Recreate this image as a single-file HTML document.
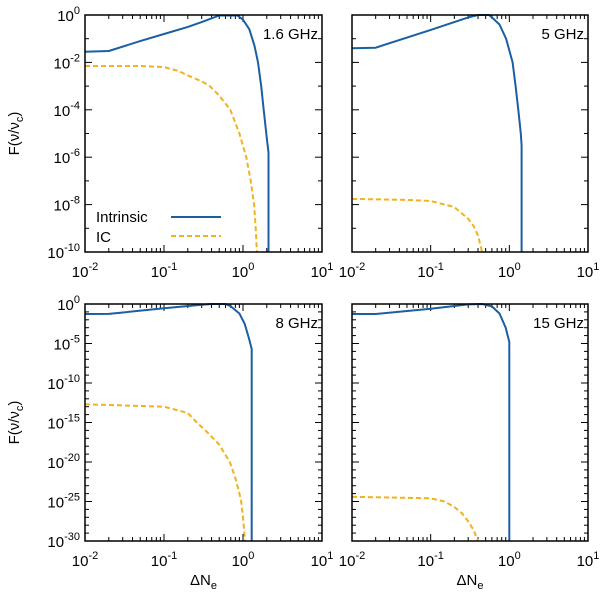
<!DOCTYPE html>
<html><head><meta charset="utf-8"><style>
body{margin:0;background:#fff}
svg{display:block;font-family:"Liberation Sans",sans-serif}
</style></head><body>
<svg id="c" width="600" height="596" xmlns="http://www.w3.org/2000/svg"></svg>
<script>
// Data: x values (ΔNe) and log10 of F values
const p1IntX=[0.01,0.02,0.05,0.1,0.2,0.3,0.5,0.85,1.0,1.2,1.4,1.55,1.7,1.83,2.0,2.1,2.1];
const p1IntLogY=[-1.55,-1.52,-1.1,-0.8,-0.5,-0.3,-0.02,-0.02,-0.2,-0.6,-1.3,-2,-3,-4,-5.2,-5.8,-10];
const p1IcX=[0.01,0.05,0.1,0.15,0.2,0.3,0.38,0.5,0.69,0.9,1.1,1.25,1.38,1.45,1.5];
const p1IcLogY=[-2.15,-2.15,-2.2,-2.35,-2.55,-2.8,-3,-3.4,-4,-5,-6,-7,-8,-9,-10];
const p2IntX=[0.01,0.02,0.1,0.3,0.4,0.55,0.6,0.75,0.91,1.1,1.2,1.3,1.4,1.43,1.43];
const p2IntLogY=[-1.4,-1.38,-0.63,-0.1,0,0,-0.1,-0.4,-1,-2,-3,-4,-5,-5.5,-10];
const p2IcX=[0.01,0.05,0.1,0.2,0.3,0.35,0.4,0.45];
const p2IcLogY=[-7.76,-7.8,-7.85,-8.1,-8.6,-8.9,-9.3,-10];
const p3IntX=[0.01,0.02,0.1,0.3,0.4,0.6,0.7,0.9,1.05,1.2,1.29,1.29];
const p3IntLogY=[-1.27,-1.25,-0.55,-0.1,0,0,-0.3,-1.2,-2.5,-4.5,-5.7,-30];
const p3IcX=[0.01,0.1,0.2,0.26,0.35,0.5,0.68,0.8,0.9,0.95,1.0,1.06];
const p3IcLogY=[-12.7,-13,-13.8,-15,-16.2,-17.8,-20,-22,-24,-25,-27,-30];
const p4IntX=[0.01,0.02,0.1,0.3,0.45,0.6,0.75,0.9,0.97,1.0,1.0];
const p4IntLogY=[-1.27,-1.27,-0.6,-0.05,0,-0.3,-1.2,-3,-4.3,-4.8,-30];
const p4IcX=[0.01,0.1,0.15,0.2,0.25,0.3,0.35,0.4];
const p4IcLogY=[-24.4,-24.6,-25,-25.7,-26.5,-27.5,-28.6,-30];
const xTickExp=[-2,-1,0,1];
const yTickTop=[0,-2,-4,-6,-8,-10];
const yTickBot=[0,-5,-10,-15,-20,-25,-30];

const NS="http://www.w3.org/2000/svg";
const svg=document.getElementById('c');
const BLUE="#1a5fa3", ORANGE="#f2b21f";
function mk(tag,attrs,parent){const e=document.createElementNS(NS,tag);for(const k in attrs)e.setAttribute(k,attrs[k]);(parent||svg).appendChild(e);return e;}
function pow(parent,x,y,anchor,exp,name){
  const t=mk('text',{x:x,y:y,'text-anchor':anchor,'font-size':15,fill:'#000'},parent);
  
  
  const a=document.createElementNS(NS,'tspan');a.textContent='10';t.appendChild(a);
  const b=document.createElementNS(NS,'tspan');b.setAttribute('dy','-7');b.setAttribute('font-size','11');b.textContent=exp;t.appendChild(b);
  return t;
}
const panels=[
 {x0:85,y0:15,w:237,h:237,ymin:-10,ymax:0,yt:yTickTop,ix:p1IntX,iy:p1IntLogY,cx:p1IcX,cy:p1IcLogY,label:'1.6 GHz',left:true,legend:true},
 {x0:352,y0:15,w:236,h:237,ymin:-10,ymax:0,yt:yTickTop,ix:p2IntX,iy:p2IntLogY,cx:p2IcX,cy:p2IcLogY,label:'5 GHz',left:false},
 {x0:85,y0:304,w:237,h:237,ymin:-30,ymax:0,yt:yTickBot,ix:p3IntX,iy:p3IntLogY,cx:p3IcX,cy:p3IcLogY,label:'8 GHz',left:true,bottom:true},
 {x0:352,y0:304,w:236,h:237,ymin:-30,ymax:0,yt:yTickBot,ix:p4IntX,iy:p4IntLogY,cx:p4IcX,cy:p4IcLogY,label:'15 GHz',left:false,bottom:true}
];
panels.forEach((p,i)=>{
  const g=mk('g',{});
  
  
  const X=v=>p.x0+(Math.log10(v)+2)/3*p.w;
  const YE=e=>p.y0+(p.ymax-e)/(p.ymax-p.ymin)*p.h;
  for(let d=-2;d<1;d++){for(let m=1;m<10;m++){const xv=X(m*Math.pow(10,d));if(m===1&&d===-2)continue;const L=m===1?7:4;
    mk('line',{x1:xv,y1:p.y0+p.h,x2:xv,y2:p.y0+p.h-L,stroke:'#000','stroke-width':1},g);
    mk('line',{x1:xv,y1:p.y0,x2:xv,y2:p.y0+L,stroke:'#000','stroke-width':1},g);}}
  xTickExp.forEach(e=>{pow(g,p.x0+(e+2)/3*p.w,p.y0+p.h+25,'middle',String(e),'x-tick-label');});
  for(let e=p.ymin;e<=p.ymax;e+=1){const yv=YE(e);const major=p.yt.indexOf(e)>=0;const L=major?7:4;
    mk('line',{x1:p.x0,y1:yv,x2:p.x0+L,y2:yv,stroke:'#000','stroke-width':1},g);
    mk('line',{x1:p.x0+p.w,y1:yv,x2:p.x0+p.w-L,y2:yv,stroke:'#000','stroke-width':1},g);}
  if(p.left)p.yt.forEach(e=>{pow(g,p.x0-5,YE(e)+6,'end',String(e),'y-tick-label');});
  const cp=mk('clipPath',{id:'cp'+i},g);mk('rect',{x:p.x0,y:p.y0-2,width:p.w,height:p.h+2},cp);
  const d1=p.ix.map((v,k)=>(k?'L':'M')+X(v).toFixed(1)+','+YE(p.iy[k]).toFixed(1)).join('');
  const l1=mk('path',{d:d1,fill:'none',stroke:BLUE,'stroke-width':2,'stroke-linejoin':'round','clip-path':'url(#cp'+i+')'},g);
  
  
  const d2=p.cx.map((v,k)=>(k?'L':'M')+X(v).toFixed(1)+','+YE(p.cy[k]).toFixed(1)).join('');
  const l2=mk('path',{d:d2,fill:'none',stroke:ORANGE,'stroke-width':2,'stroke-dasharray':'5,3','stroke-linejoin':'round','clip-path':'url(#cp'+i+')'},g);
  
  
  const fr=mk('rect',{x:p.x0,y:p.y0,width:p.w,height:p.h,fill:'none',stroke:'#000','stroke-width':1.5},g);
  
  
  const lb=mk('text',{x:p.x0+p.w-4,y:p.y0+24,'text-anchor':'end','font-size':15},g);lb.textContent=p.label;
  
  
  if(p.left){const yt=mk('text',{transform:'translate(19,'+(p.y0+p.h/2)+') rotate(-90)','text-anchor':'middle','font-size':15},g);
    
    
    yt.innerHTML='F(ν/ν<tspan dy="4" font-size="11">c</tspan><tspan dy="-4">)</tspan>';}
  if(p.bottom){const xt=mk('text',{x:p.x0+p.w/2,y:585,'text-anchor':'middle','font-size':15},g);
    
    
    xt.innerHTML='ΔN<tspan dy="4" font-size="11">e</tspan>';}
  if(p.legend){
    const a=mk('text',{x:96,y:222,'font-size':15},g);a.textContent='Intrinsic';
    
    mk('line',{x1:171,y1:217,x2:221,y2:217,stroke:BLUE,'stroke-width':2},g);
    const b=mk('text',{x:96,y:242,'font-size':15},g);b.textContent='IC';
    
    mk('line',{x1:171,y1:236,x2:221,y2:236,stroke:ORANGE,'stroke-width':2,'stroke-dasharray':'5,3'},g);
  }
});
</script>
</body></html>
